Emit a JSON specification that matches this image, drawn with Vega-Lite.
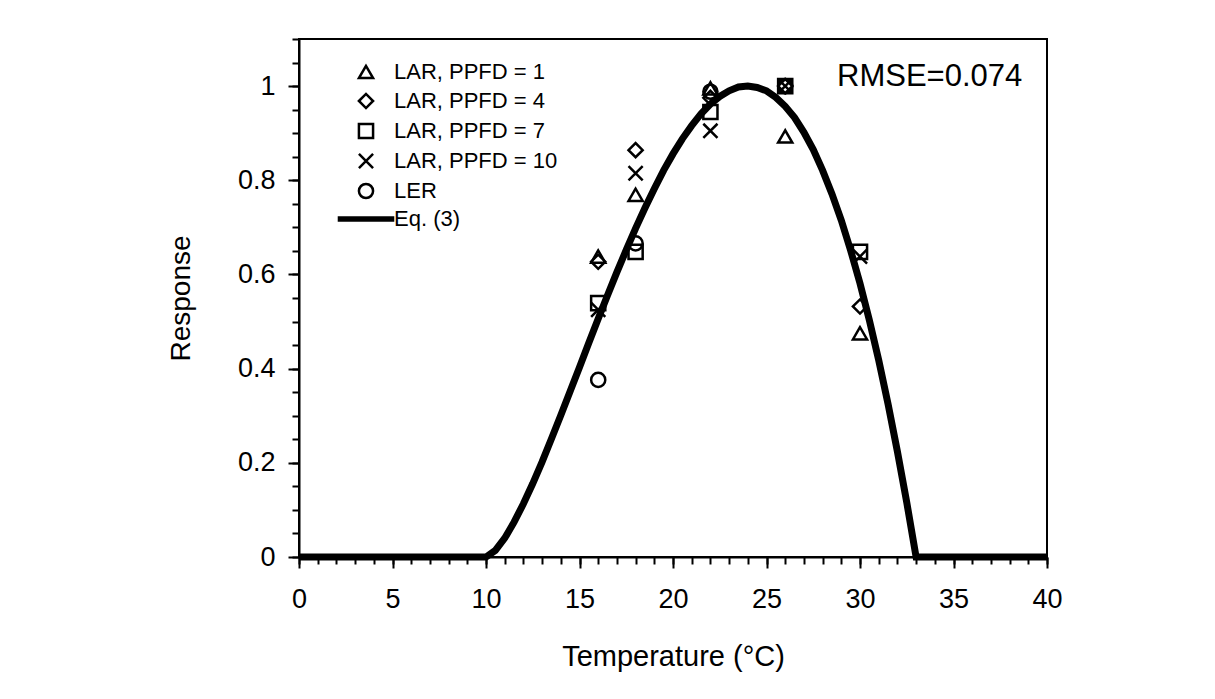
{
  "$schema": "https://vega.github.io/schema/vega-lite/v6.json",
  "width": 748,
  "height": 518,
  "autosize": {"type": "none"},
  "padding": {"left": 299, "top": 39, "right": 168, "bottom": 142},
  "background": "white",
  "config": {
    "font": "Liberation Sans",
    "view": {"stroke": "black", "strokeWidth": 2},
    "axis": {
      "grid": false,
      "domainColor": "black",
      "domainWidth": 2,
      "tickColor": "black",
      "tickWidth": 2,
      "labelColor": "black",
      "labelFont": "Liberation Sans",
      "titleFont": "Liberation Sans",
      "titleColor": "black",
      "titleFontWeight": "normal",
      "labelFlush": false,
      "labelOverlap": false,
      "labelBound": false
    }
  },
  "datasets": {
    "curve": [
      {"T": 0, "r": 0}, {"T": 10, "r": 0}, {"T": 10.5, "r": 0.014}, {"T": 11, "r": 0.040},
      {"T": 11.5, "r": 0.074}, {"T": 12, "r": 0.113}, {"T": 12.5, "r": 0.156}, {"T": 13, "r": 0.202},
      {"T": 13.5, "r": 0.251}, {"T": 14, "r": 0.301}, {"T": 14.5, "r": 0.352}, {"T": 15, "r": 0.403},
      {"T": 15.5, "r": 0.455}, {"T": 16, "r": 0.506}, {"T": 16.5, "r": 0.556}, {"T": 17, "r": 0.605},
      {"T": 17.5, "r": 0.652}, {"T": 18, "r": 0.698}, {"T": 18.5, "r": 0.741}, {"T": 19, "r": 0.782},
      {"T": 19.5, "r": 0.821}, {"T": 20, "r": 0.856}, {"T": 20.5, "r": 0.888}, {"T": 21, "r": 0.916},
      {"T": 21.5, "r": 0.941}, {"T": 22, "r": 0.962}, {"T": 22.5, "r": 0.978}, {"T": 23, "r": 0.990},
      {"T": 23.5, "r": 0.998}, {"T": 24, "r": 1.0}, {"T": 24.5, "r": 0.997}, {"T": 25, "r": 0.990},
      {"T": 25.5, "r": 0.976}, {"T": 26, "r": 0.957}, {"T": 26.5, "r": 0.933}, {"T": 27, "r": 0.902},
      {"T": 27.5, "r": 0.865}, {"T": 28, "r": 0.821}, {"T": 28.5, "r": 0.771}, {"T": 29, "r": 0.715},
      {"T": 29.5, "r": 0.651}, {"T": 30, "r": 0.581}, {"T": 30.5, "r": 0.503}, {"T": 31, "r": 0.418},
      {"T": 31.5, "r": 0.325}, {"T": 32, "r": 0.224}, {"T": 32.5, "r": 0.116}, {"T": 33, "r": 0},
      {"T": 40, "r": 0}
    ],
    "obs": [
      {"s": "LAR, PPFD = 1", "T": 16, "r": 0.638},
      {"s": "LAR, PPFD = 4", "T": 16, "r": 0.627},
      {"s": "LAR, PPFD = 7", "T": 16, "r": 0.539},
      {"s": "LAR, PPFD = 10", "T": 16, "r": 0.525},
      {"s": "LER", "T": 16, "r": 0.376},
      {"s": "LAR, PPFD = 1", "T": 18, "r": 0.769},
      {"s": "LAR, PPFD = 4", "T": 18, "r": 0.864},
      {"s": "LAR, PPFD = 7", "T": 18, "r": 0.648},
      {"s": "LAR, PPFD = 10", "T": 18, "r": 0.815},
      {"s": "LER", "T": 18, "r": 0.666},
      {"s": "LAR, PPFD = 1", "T": 22, "r": 0.995},
      {"s": "LAR, PPFD = 4", "T": 22, "r": 0.975},
      {"s": "LAR, PPFD = 7", "T": 22, "r": 0.945},
      {"s": "LAR, PPFD = 10", "T": 22, "r": 0.905},
      {"s": "LER", "T": 22, "r": 0.988},
      {"s": "LAR, PPFD = 1", "T": 26, "r": 0.893},
      {"s": "LAR, PPFD = 4", "T": 26, "r": 1.0},
      {"s": "LAR, PPFD = 7", "T": 26, "r": 1.0},
      {"s": "LAR, PPFD = 10", "T": 26, "r": 1.0},
      {"s": "LER", "T": 26, "r": 1.0},
      {"s": "LAR, PPFD = 1", "T": 30, "r": 0.475},
      {"s": "LAR, PPFD = 4", "T": 30, "r": 0.532},
      {"s": "LAR, PPFD = 7", "T": 30, "r": 0.648},
      {"s": "LAR, PPFD = 10", "T": 30, "r": 0.638}
    ],
    "note": [
      {"label": "RMSE=0.074", "T": 28.77, "r": 1.0}
    ]
  },
  "layer": [
    {
      "data": {"name": "curve"},
      "mark": {"type": "line", "color": "black", "strokeWidth": 7, "strokeCap": "butt"},
      "encoding": {
        "x": {
          "field": "T", "type": "quantitative",
          "scale": {"domain": [0, 40], "nice": false, "zero": false},
          "axis": {
            "orient": "bottom",
            "values": [0,1,2,3,4,5,6,7,8,9,10,11,12,13,14,15,16,17,18,19,20,21,22,23,24,25,26,27,28,29,30,31,32,33,34,35,36,37,38,39,40],
            "tickSize": 7, "labels": false, "title": null, "domain": false
          }
        },
        "y": {
          "field": "r", "type": "quantitative",
          "scale": {"domain": [0, 1.1], "nice": false, "zero": false},
          "axis": {
            "orient": "left",
            "values": [0,0.05,0.1,0.15,0.2,0.25,0.3,0.35,0.4,0.45,0.5,0.55,0.6,0.65,0.7,0.75,0.8,0.85,0.9,0.95,1,1.05,1.1],
            "tickSize": 7, "labels": false, "title": null, "domain": false
          }
        }
      }
    },
    {
      "data": {"name": "obs"},
      "mark": {"type": "point", "filled": false, "color": "black", "strokeWidth": 2.5, "size": 200, "opacity": 1},
      "encoding": {
        "x": {
          "field": "T", "type": "quantitative",
          "axis": {
            "orient": "bottom",
            "values": [0,5,10,15,20,25,30,35,40],
            "tickSize": 11,
            "labelFontSize": 27,
            "labelPadding": 18,
            "title": "Temperature (°C)",
            "titleFontSize": 29,
            "titlePadding": 30
          }
        },
        "y": {
          "field": "r", "type": "quantitative",
          "axis": {
            "orient": "left",
            "values": [0,0.2,0.4,0.6,0.8,1],
            "format": "~g",
            "tickSize": 11,
            "labelFontSize": 27,
            "labelPadding": 13,
            "title": "Response",
            "titleFontSize": 28,
            "titlePadding": 42
          }
        },
        "shape": {
          "field": "s", "type": "nominal",
          "scale": {
            "domain": ["LAR, PPFD = 1", "LAR, PPFD = 4", "LAR, PPFD = 7", "LAR, PPFD = 10", "LER", "Eq. (3)"],
            "range": ["triangle-up", "diamond", "square", "M-1,-1L1,1M-1,1L1,-1", "circle", "M-4,-0.2H4M-4,0H4M-4,0.2H4"]
          },
          "legend": {
            "orient": "none",
            "legendX": 56,
            "legendY": 22,
            "title": null,
            "padding": 0,
            "labelFontSize": 22,
            "labelFont": "Liberation Sans",
            "labelColor": "black",
            "labelLimit": 0,
            "labelOffset": 17,
            "rowPadding": 4,
            "symbolSize": 200,
            "symbolStrokeWidth": 2.5,
            "symbolStrokeColor": "black",
            "labelExpr": "datum.label == 'Eq. (3)' ? '\u00a0Eq. (3)' : datum.label"
          }
        }
      }
    },
    {
      "data": {"name": "note"},
      "mark": {"type": "text", "align": "left", "baseline": "alphabetic", "fontSize": 31, "font": "Liberation Sans", "color": "black"},
      "encoding": {
        "x": {"field": "T", "type": "quantitative", "axis": null},
        "y": {"field": "r", "type": "quantitative", "axis": null},
        "text": {"field": "label"}
      }
    }
  ],
  "resolve": {"axis": {"x": "independent", "y": "independent"}}
}
